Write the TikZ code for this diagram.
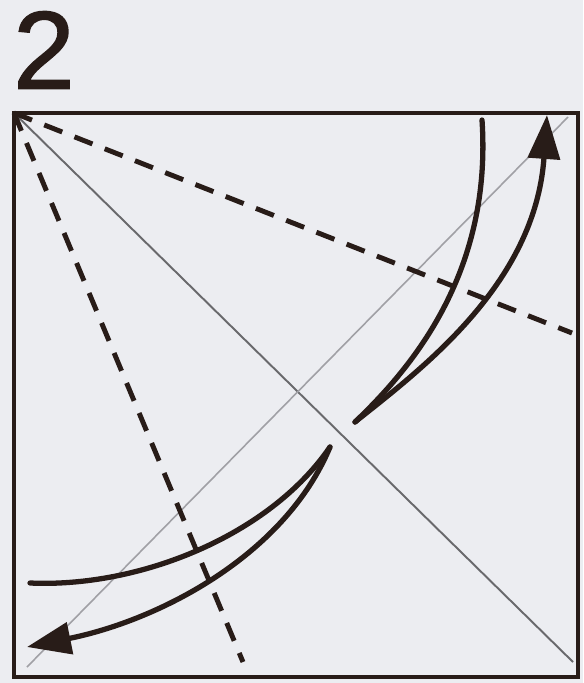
\documentclass[tikz,border=0pt]{standalone}
\usepackage{fontspec}
\setmainfont{Liberation Sans}
\newfontfamily\stepfont[FakeBold=1.3]{Liberation Sans}
\usetikzlibrary{arrows.meta}
\definecolor{myink}{RGB}{40,28,24}
\definecolor{mypaper}{RGB}{236,237,241}
\definecolor{mycrease}{RGB}{105,105,108}
\definecolor{mylight}{RGB}{160,160,165}
\tikzset{
  sheet/.style={draw=myink, line width=2.3pt},
  crease/.style={draw=mycrease, line width=1.1pt},
  faint/.style={draw=mylight, line width=0.9pt},
  valley/.style={draw=myink, line width=2.8pt, dash pattern=on 11pt off 7.5pt},
  swing/.style={draw=myink, line width=3pt, line cap=round},
  swingarrow/.style={swing, -{Triangle[length=25pt, width=18pt]}}
}

\begin{document}
\begin{tikzpicture}[x=0.02cm, y=-0.02cm]
  \useasboundingbox[fill=mypaper] (0,0) rectangle (583,683);
  % Step number
  \node[font=\stepfont\fontsize{63}{63}\selectfont, inner sep=0pt, text=myink] (num) at (44,50) {2};
  % Corners of the square
  \coordinate (tl) at (14,113);
  \coordinate (tr) at (578,113);
  \coordinate (br) at (578,677);
  \coordinate (bl) at (14,677);
  % Diagonals
  \coordinate (dgA) at (573,662);
  \coordinate (dgB) at (27,667);
  \coordinate (dgC) at (568,117);
  \draw[crease] (tl) -- (dgA);
  \draw[faint] (dgB) -- (dgC);
  % Valley folds to the diagonal
  \coordinate (vr) at (572,333);
  \coordinate (vb) at (243,662);
  \draw[valley] (tl) -- (vr);
  \draw[valley] (tl) -- (vb);
  % Upper arrow pair
  \coordinate (ua) at (355,422);
  \coordinate (ub) at (482,120);
  \coordinate (uc) at (547,115);
  \draw[swing] (ua) .. controls (415,365) and (492,270) .. (ub);
  \draw[swingarrow] (ua) .. controls (420,370) and (535,285) .. (uc);
  % Lower arrow pair
  \coordinate (la) at (330,447);
  \coordinate (lb) at (30,583);
  \coordinate (lc) at (27,647);
  \draw[swing] (la) .. controls (270,535) and (140,588) .. (lb);
  \draw[swingarrow] (la) .. controls (285,555) and (160,620) .. (lc);
  % Square
  \draw[sheet] (tl) -- (tr) -- (br) -- (bl) -- cycle;
\end{tikzpicture}
\end{document}
